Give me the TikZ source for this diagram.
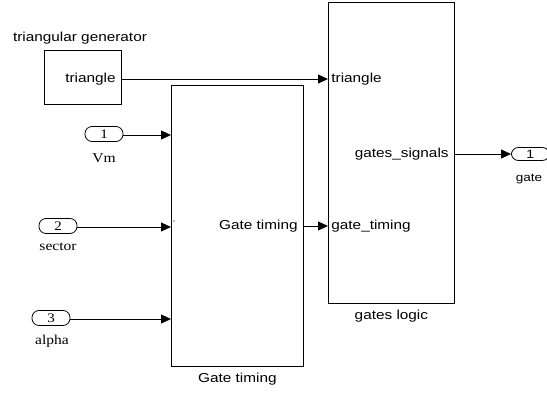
\documentclass[tikz,border=0pt]{standalone}
\usepackage{fontspec}
\setmainfont[FakeStretch=1.15]{Liberation Serif}
\newfontfamily\arial[FakeStretch=1.18]{Liberation Sans}
\usetikzlibrary{positioning,arrows.meta}

\begin{document}
\begin{tikzpicture}[x=1pt, y=-1pt, >={Triangle[length=10pt,width=9pt]}, line width=0.8pt,
  blk/.style={draw, anchor=north west, inner sep=0pt},
  port/.style={draw, rounded corners=7pt, minimum width=38pt, minimum height=15pt, inner sep=0pt},
  txt/.style={inner sep=0pt, font=\arial\fontsize{13}{15}\selectfont},
  ser/.style={inner sep=0pt, font=\fontsize{13.5}{16}\selectfont}]
\useasboundingbox (0,0) rectangle (547,393);
% blocks
\node[blk, minimum width=77pt, minimum height=54pt] (gen) at (44,50) {};
\node[blk, minimum width=132pt, minimum height=281pt] (gtim) at (171,85) {};
\node[blk, minimum width=126pt, minimum height=301pt] (glog) at (328,2) {};
\node[txt] (genlbl) at (80,38) {triangular generator};
\node[txt, below=6pt of gtim] (gtimlbl) {Gate timing};
\node[txt, below=6pt of glog] (gloglbl) {gates logic};
% port labels
\node[txt, anchor=east] (gentri) at (116,79) {triangle};
\node[txt, anchor=west] (glogtri) at (331,79) {triangle};
\node[txt, anchor=east] (gtimout) at (298,226) {Gate timing};
\node[txt, anchor=west] (glogin) at (331,226) {gate\_timing};
\node[txt, anchor=east] (glogout) at (449,154) {gates\_signals};
\fill (174,221) circle (0.6pt);
% in/out ports
\node[port, font=\fontsize{13}{13}\selectfont] (in1) at (104,134) {1};
\node[port, font=\fontsize{13}{13}\selectfont] (in2) at (58,226) {2};
\node[port, font=\fontsize{13}{13}\selectfont] (in3) at (51,318) {3};
\node[ser] (vm) at (104,158) {Vm};
\node[ser] (sec) at (58,247) {sector};
\node[ser] (alp) at (52,341) {alpha};
\node[port, anchor=west, minimum height=13pt, font=\arial\fontsize{12}{12}\selectfont] (out1) at (511,154) {1};
\node[txt, font=\arial\fontsize{11.5}{14}\selectfont] (gate) at (529,179) {gate};
% connectors
\draw[->] (gen.east |- gentri) -- (glog.west |- glogtri);
\foreach \p in {in1,in2,in3} \draw[->] ([yshift=-1pt]\p.east) -- ([yshift=-1pt]gtim.west |- \p);
\draw[->] (gtim.east |- gtimout) -- (glog.west |- glogin);
\draw[->] (glog.east |- glogout) -- (out1.west);
\end{tikzpicture}
\end{document}
